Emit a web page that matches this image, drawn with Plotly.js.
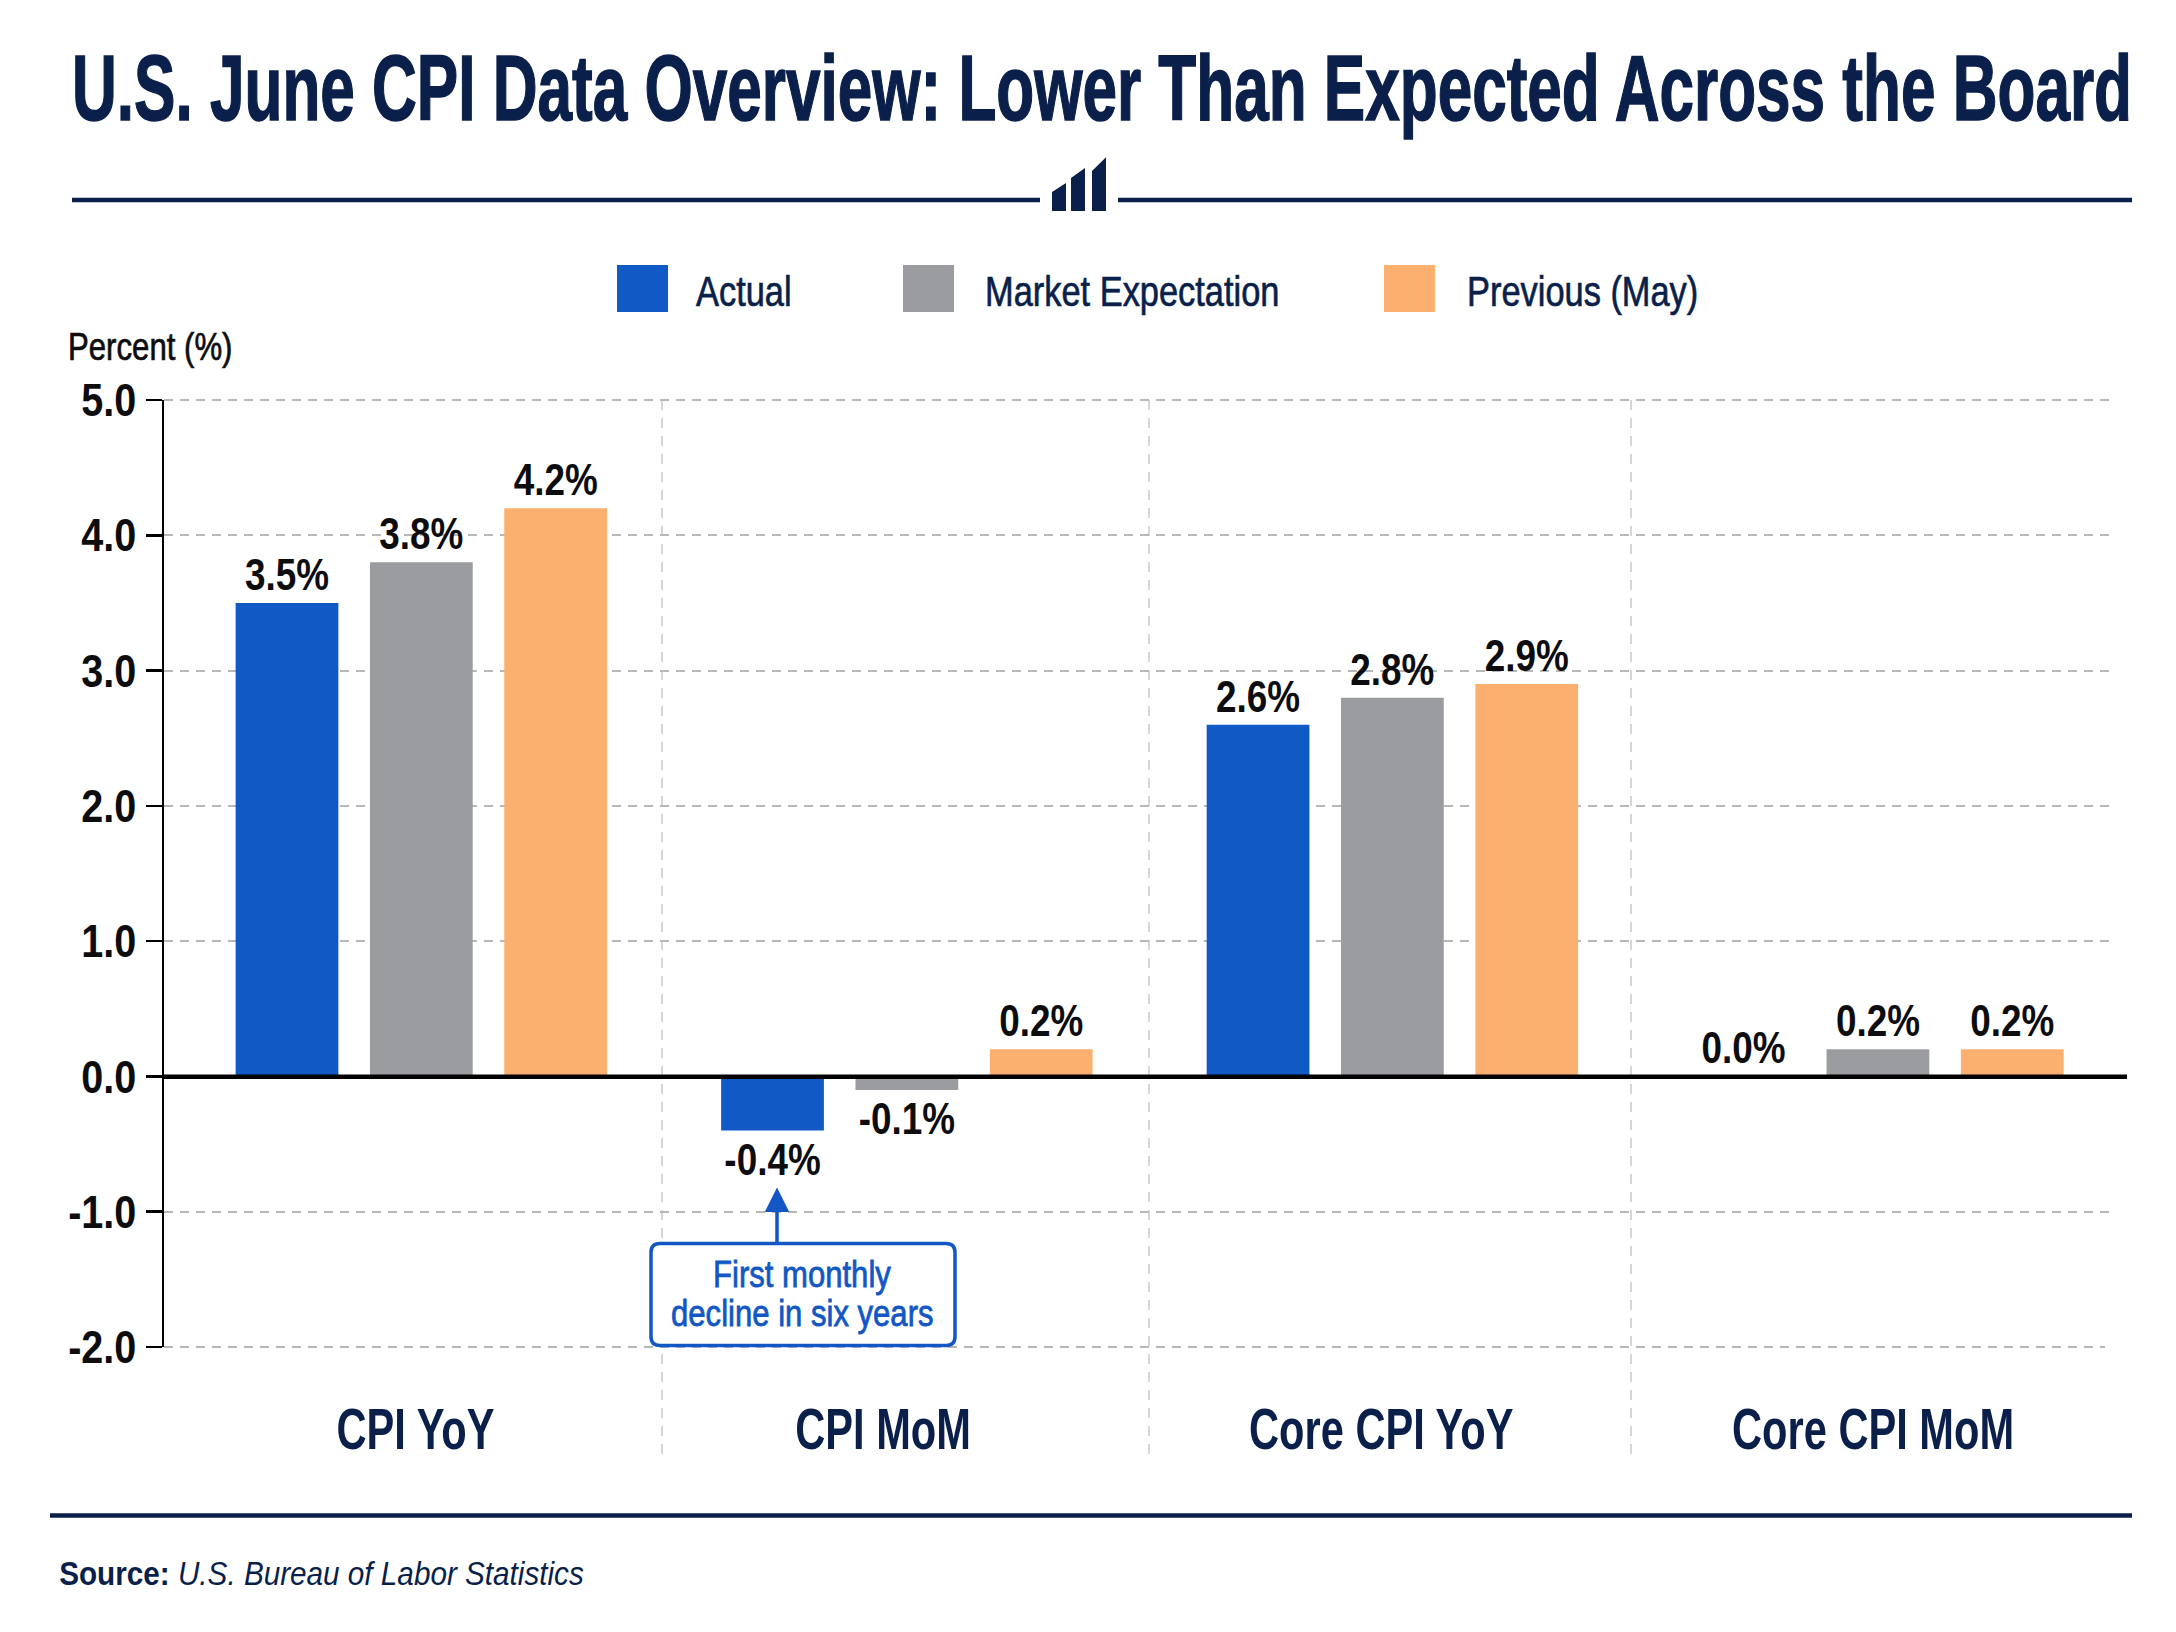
<!DOCTYPE html>
<html>
<head>
<meta charset="utf-8">
<script src="https://cdn.plot.ly/plotly-3.0.1.min.js"></script>
<style>html,body{margin:0;padding:0;background:#fff}</style>
</head>
<body>
<div id="chart" style="width:2176px;height:1632px"></div>
<script>
const categories = ['CPI YoY', 'CPI MoM', 'Core CPI YoY', 'Core CPI MoM'];
const groupPositions = [0, 1, 2, 3];
const labelPositions = [-0.012, 0.951, 1.977, 2.99];
const actual = [3.5, -0.4, 2.6, 0.0];
const expectation = [3.8, -0.1, 2.8, 0.2];
const previous = [4.2, 0.2, 2.9, 0.2];
const seriesNames = ['Actual', 'Market Expectation', 'Previous (May)'];
const seriesColors = ['#1159c5', '#9b9c9f', '#fbb06f'];
const yTicks = [-2, -1, 0, 1, 2, 3, 4, 5];
const separators = [662, 1149, 1631];

const navy = '#0a1f4a';
const ink = '#0d0d0f';
const noteBlue = '#1257c4';
const sans = '"Liberation Sans", Arial, sans-serif';

const W = 2176, H = 1632;
const plot = { left: 164, right: 2110, top: 400, bottom: 1347.5 };
const px = (x) => (x - plot.left) / (plot.right - plot.left);
const py = (y) => (plot.bottom - y) / (plot.bottom - plot.top);

function rule(x0, x1, y, color, width, dash) {
  return { type: 'line', xref: 'paper', yref: 'paper', x0: px(x0), x1: px(x1), y0: py(y), y1: py(y), line: { color, width, dash: dash || 'solid' } };
}
function block(x0, x1, y0, y1, color) {
  return { type: 'rect', xref: 'paper', yref: 'paper', x0: px(x0), x1: px(x1), y0: py(y0), y1: py(y1), fillcolor: color, line: { width: 0 } };
}
function iconBar(x0, x1, top, slant) {
  const p = (x, y) => `${px(x)},${py(y)}`;
  return {
    type: 'path', xref: 'paper', yref: 'paper', fillcolor: navy, line: { width: 0 },
    path: 'M' + p(x0, 211) + ' L' + p(x0, top + slant) + ' L' + p(x1, top) + ' L' + p(x1, 211) + ' Z'
  };
}
function roundedBox(x0, x1, y0, y1, r) {
  const p = (x, y) => `${px(x)},${py(y)}`;
  return 'M' + p(x0 + r, y0) + ' L' + p(x1 - r, y0) + ' Q' + p(x1, y0) + ' ' + p(x1, y0 + r)
    + ' L' + p(x1, y1 - r) + ' Q' + p(x1, y1) + ' ' + p(x1 - r, y1)
    + ' L' + p(x0 + r, y1) + ' Q' + p(x0, y1) + ' ' + p(x0, y1 - r)
    + ' L' + p(x0, y0 + r) + ' Q' + p(x0, y0) + ' ' + p(x0 + r, y0) + ' Z';
}
// condense: horizontal squeeze applied after drawing, the reference type is a narrow face
function label(text, x, y, size, color, anchor, condense, heavy) {
  return {
    text, xref: 'paper', yref: 'paper', x: px(x), y: py(y), xanchor: anchor, yanchor: 'middle',
    showarrow: false, font: { family: sans, size, color }, condense, heavy
  };
}

const traces = [actual, expectation, previous].map((values, i) => ({
  type: 'bar',
  name: seriesNames[i],
  x: groupPositions,
  y: values,
  marker: { color: seriesColors[i], line: { width: 0 } },
  text: values.map((v) => v.toFixed(1) + '%'),
  textposition: 'outside',
  constraintext: 'none',
  cliponaxis: false,
  textfont: { family: sans, size: 45, color: ink, weight: 700 },
  hoverinfo: 'skip'
}));

const shapes = [
  rule(72, 1040, 200, navy, 4.5),
  rule(1118, 2132, 200, navy, 4.5),
  iconBar(1052, 1066, 183, 9),
  iconBar(1071, 1085, 168, 10),
  iconBar(1092, 1106, 157, 14),
  rule(50, 2132, 1516, navy, 4.5),
  rule(164, 2110, 400, '#b7b7b7', 2, '9px,7px'),
  rule(164, 2105, 1347.5, '#b7b7b7', 2, '9px,7px')
];
separators.forEach((x) => {
  shapes.push({
    type: 'line', xref: 'paper', yref: 'paper', x0: px(x), x1: px(x), y0: py(400), y1: py(1458),
    line: { color: '#c9c9c9', width: 1.5, dash: '10px,8px' }, layer: 'below'
  });
});
shapes.push(rule(164, 2127, 1077, '#000000', 4.5));
shapes.push({
  type: 'path', xref: 'paper', yref: 'paper', path: roundedBox(651, 955, 1244, 1346, 9),
  fillcolor: '#ffffff', line: { color: noteBlue, width: 3.5 }
});

const legendSpots = [
  { swatch: 617, text: 694 },
  { swatch: 903, text: 983 },
  { swatch: 1384, text: 1465 }
];
const annotations = [
  label('Percent (%)', 66, 347, 38, ink, 'left', 0.82, 0.7),
  label('<b>Source:</b> <i>U.S. Bureau of Labor Statistics</i>', 57, 1574, 33, navy, 'left', 0.9),
  label('First monthly', 802, 1275, 37, noteBlue, 'center', 0.84, 0.8),
  label('decline in six years', 802, 1314, 37, noteBlue, 'center', 0.84, 0.8),
  {
    text: '', xref: 'paper', yref: 'paper', x: px(777), y: py(1188), axref: 'pixel', ayref: 'pixel', ax: 0, ay: 56,
    showarrow: true, arrowhead: 2, arrowsize: 1.4, arrowwidth: 3.5, arrowcolor: noteBlue
  }
];
seriesNames.forEach((name, i) => {
  shapes.push(block(legendSpots[i].swatch, legendSpots[i].swatch + 51, 265, 312, seriesColors[i]));
  annotations.push(label(name, legendSpots[i].text, 291, 43, navy, 'left', 0.8, 0.7));
});

const layout = {
  width: W,
  height: H,
  paper_bgcolor: '#ffffff',
  plot_bgcolor: '#ffffff',
  showlegend: false,
  barmode: 'group',
  bargap: 0.17,
  bargroupgap: 0.235,
  margin: { l: plot.left, r: W - plot.right, t: plot.top, b: H - plot.bottom, pad: 0 },
  title: {
    text: '<b>U.S. June CPI Data Overview: Lower Than Expected Across the Board</b>',
    x: 1102 / W, xref: 'container', xanchor: 'center', y: 1 - 88 / H, yref: 'container', yanchor: 'middle',
    font: { family: sans, size: 92, color: navy }
  },
  xaxis: {
    type: 'linear',
    range: [-0.53, 3.478],
    tickmode: 'array',
    tickvals: labelPositions,
    ticktext: categories,
    ticks: 'outside',
    ticklen: 33,
    tickcolor: 'rgba(0,0,0,0)',
    tickfont: { family: sans, size: 57, color: navy, weight: 700 },
    showgrid: false,
    zeroline: false,
    showline: false
  },
  yaxis: {
    range: [-2, 5],
    tickmode: 'array',
    tickvals: yTicks,
    ticktext: yTicks.map((v) => v.toFixed(1)),
    ticks: 'outside',
    ticklen: 16,
    tickwidth: 2.5,
    tickcolor: '#000000',
    tickfont: { family: sans, size: 46, color: ink, weight: 700 },
    showline: true,
    linecolor: '#000000',
    linewidth: 2.5,
    showgrid: true,
    gridcolor: '#b7b7b7',
    griddash: '9px,7px',
    gridwidth: 2,
    zeroline: false
  },
  shapes,
  annotations
};

function squeeze(el, k, side) {
  const box = el.getBBox();
  const pivot = side === 'left' ? box.x : side === 'right' ? box.x + box.width : box.x + box.width / 2;
  const prev = el.getAttribute('transform') || '';
  el.setAttribute('transform', `${prev} translate(${pivot} 0) scale(${k} 1) translate(${-pivot} 0)`);
}

function thicken(el, color, width) {
  el.style.stroke = color;
  el.style.strokeWidth = width + 'px';
}

Plotly.newPlot('chart', traces, layout, { displayModeBar: false, staticPlot: true }).then((gd) => {
  const title = gd.querySelector('.gtitle');
  squeeze(title, 2060 / title.getBBox().width, 'center');
  thicken(title, navy, 1.5);
  gd.querySelectorAll('.xtick text').forEach((el) => squeeze(el, 0.73, 'center'));
  gd.querySelectorAll('.ytick text').forEach((el) => squeeze(el, 0.86, 'right'));
  gd.querySelectorAll('.bartext').forEach((el) => squeeze(el, 0.82, 'center'));
  layout.annotations.forEach((note, i) => {
    if (!note.condense) return;
    const el = gd.querySelector(`.annotation[data-index="${i}"] text`);
    if (!el) return;
    squeeze(el, note.condense, note.xanchor);
    if (note.heavy) thicken(el, note.font.color, note.heavy);
  });
});
</script>
</body>
</html>
